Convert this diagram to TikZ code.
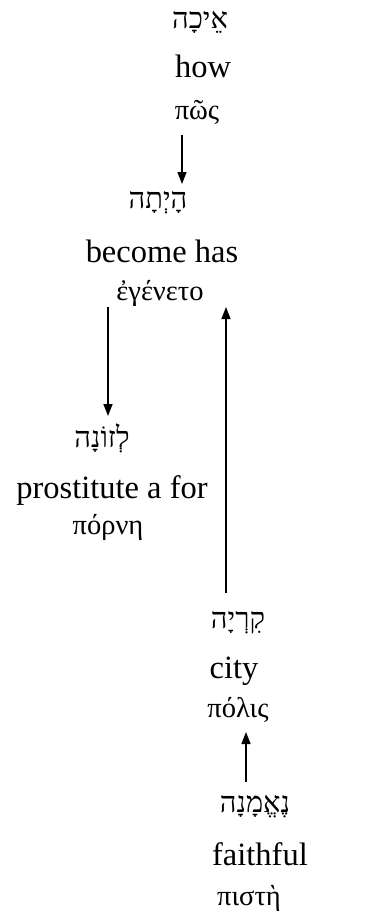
\documentclass[tikz,border=0pt]{standalone}
\usepackage{fontspec}
\setmainfont{Liberation Serif}
\newfontfamily\hebfont[Script=Hebrew]{Liberation Serif}
\newfontfamily\grkfont[Script=Greek]{Liberation Serif}
\TeXXeTstate=1
\usetikzlibrary{arrows.meta}
\tikzset{
  heb/.style={anchor=base, inner sep=0pt, font=\hebfont\fontsize{29}{31}\selectfont},
  eng/.style={anchor=base, inner sep=0pt, font=\fontsize{32.5}{35}\selectfont},
  grk/.style={anchor=base, inner sep=0pt, font=\grkfont\fontsize{28.5}{31}\selectfont},
  arr/.style={line width=1.5pt, -{Triangle[length=12pt,width=9pt]}}
}
\begin{document}
\begin{tikzpicture}[x=1pt,y=-1pt]
\useasboundingbox (0,0) rectangle (389,911);
% word 1
\node[heb] (h1) at (200,28) {\beginR אֵיכָה\endR};
\node[eng] (e1) at (203,77) {how};
\node[grk] (g1) at (197,119) {πῶς};
% word 2
\node[heb] (h2) at (158,208) {\beginR הָיְתָה\endR};
\node[eng] (e2) at (162,262) {become has};
\node[grk] (g2) at (160,300) {ἐγένετο};
% word 3
\node[heb] (h3) at (102,447) {\beginR לְזוֹנָה\endR};
\node[eng] (e3) at (112,498) {prostitute a for};
\node[grk] (g3) at (108,534) {πόρνη};
% word 4
\node[heb] (h4) at (238,628) {\beginR קִרְיָה\endR};
\node[eng] (e4) at (234,678) {city};
\node[grk] (g4) at (238,717) {πόλις};
% word 5
\node[heb] (h5) at (255,812) {\beginR נֶאֱמָנָה\endR};
\node[eng] (e5) at (260,865) {faithful};
\node[grk] (g5) at (249,905) {πιστὴ};
% arrow end points
\coordinate (a1s) at (182,135); \coordinate (a1e) at (182,184);
\coordinate (a2s) at (108,307); \coordinate (a2e) at (108,416);
\coordinate (a3s) at (226,593); \coordinate (a3e) at (226,307);
\coordinate (a4s) at (246,782); \coordinate (a4e) at (246,732);
\draw[arr] (a1s) -- (a1e);
\draw[arr] (a2s) -- (a2e);
\draw[arr] (a3s) -- (a3e);
\draw[arr] (a4s) -- (a4e);
\end{tikzpicture}
\end{document}
